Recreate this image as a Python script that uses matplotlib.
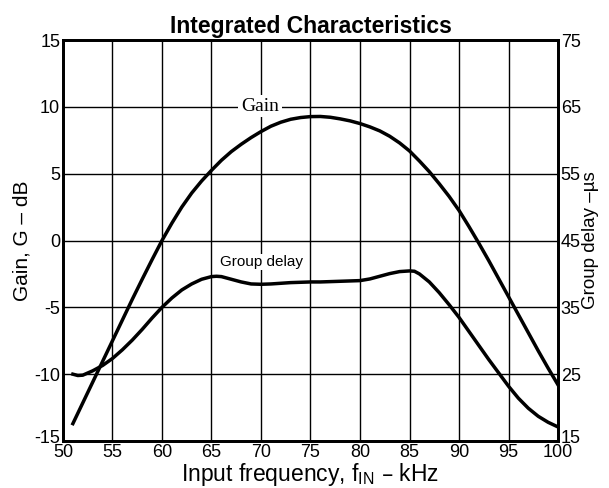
import numpy as np
import matplotlib
matplotlib.use("Agg")
from matplotlib import pyplot as plt
from matplotlib.transforms import ScaledTranslation

plt.rcParams['font.family'] = ['Liberation Sans', 'DejaVu Sans']
plt.rcParams['mathtext.default'] = 'regular'
plt.rcParams['axes.unicode_minus'] = False

# Gain curve (kHz, dB)
gain_f = [51, 52, 53, 54, 55, 56, 57, 58, 59, 60, 61, 62, 63, 64, 65, 66, 67, 68,
          69, 70, 71, 72, 73, 74, 75, 76, 77, 78, 79, 80, 81, 82, 83, 84, 85, 86,
          87, 88, 89, 90, 91, 92, 93, 94, 95, 96, 97, 98, 99, 100]
gain_db = [-13.7, -12.15, -10.6, -9.05, -7.5, -5.95, -4.4, -2.9, -1.43, 0.0,
           1.3, 2.5, 3.55, 4.45, 5.25, 6.0, 6.65, 7.2, 7.7, 8.15,
           8.55, 8.85, 9.07, 9.2, 9.27, 9.28, 9.22, 9.1, 8.95, 8.75,
           8.5, 8.2, 7.8, 7.3, 6.7, 5.95, 5.15, 4.25, 3.3, 2.25,
           1.05, -0.2, -1.5, -2.85, -4.2, -5.55, -6.9, -8.25, -9.55, -10.8]

# Group delay curve (kHz, us)
gd_f = [51, 51.5, 52, 53, 54, 55, 56, 57, 58, 59, 60, 61, 62, 63, 64, 65, 65.5,
        66, 67, 68, 69, 70, 71, 72, 73, 74, 75, 76, 77, 78, 79, 80, 81, 82, 83,
        84, 85, 85.5, 86, 87, 88, 89, 90, 91, 92, 93, 94, 95, 96, 97, 98, 99, 100]
gd_us = [25.0, 24.8, 24.85, 25.5, 26.3, 27.35, 28.65, 30.1, 31.7, 33.4, 35.0,
         36.4, 37.6, 38.5, 39.2, 39.6, 39.65, 39.6, 39.2, 38.8, 38.5, 38.45,
         38.5, 38.6, 38.7, 38.75, 38.8, 38.8, 38.85, 38.9, 38.95, 39.0, 39.25,
         39.65, 40.05, 40.35, 40.45, 40.4, 40.0, 38.8, 37.2, 35.4, 33.5, 31.4,
         29.3, 27.2, 25.2, 23.2, 21.4, 19.9, 18.7, 17.8, 17.1]

x_ticks = [50, 55, 60, 65, 70, 75, 80, 85, 90, 95, 100]
gain_ticks = [-15, -10, -5, 0, 5, 10, 15]
gd_ticks = [15, 25, 35, 45, 55, 65, 75]

fig = plt.figure(figsize=(6.09, 4.88), dpi=100)
ax = fig.add_axes([0.1034, 0.0963, 0.8129, 0.8217])
ax2 = ax.twinx()

ax.set_xlim(50, 100)
ax.set_ylim(-15, 15)
ax2.set_ylim(15, 75)

ax.set_xticks(x_ticks)
ax.set_yticks(gain_ticks)
ax2.set_yticks(gd_ticks)
ax.grid(True, color='black', linewidth=1.0)
ax.tick_params(length=0, labelsize=13, pad=2)
ax2.tick_params(length=0, labelsize=13, pad=2)

# lift the bottom y labels a little, as in the original
lift = ScaledTranslation(0, 5 / 100, fig.dpi_scale_trans)
for lab in (ax.get_yticklabels()[0], ax2.get_yticklabels()[0]):
    lab.set_transform(lab.get_transform() + lift)

for a in (ax, ax2):
    for s in a.spines.values():
        s.set_linewidth(2.0)

ax.plot(gain_f, gain_db, color='black', linewidth=2.5)
ax2.plot(gd_f, gd_us, color='black', linewidth=2.5)

ax.text(69.9, 10.05, 'Gain', family=['Liberation Serif'], fontsize=14,
        ha='center', va='center',
        bbox=dict(facecolor='white', edgecolor='none', pad=2))
ax.text(70.1, -1.6, 'Group delay', fontsize=11, ha='center', va='center',
        bbox=dict(facecolor='white', edgecolor='none', pad=0.5))

ax.set_title('Integrated Characteristics', fontsize=16.5, fontweight='bold', pad=5)
ax.set_xlabel('Input frequency, f$_{IN}$ – kHz', fontsize=16.5, labelpad=0)
ax.set_ylabel('Gain, G – dB', fontsize=15, labelpad=2)
ax2.set_ylabel('Group delay –µs', fontsize=13.5, labelpad=1)

fig.savefig('out.png', dpi=100)
